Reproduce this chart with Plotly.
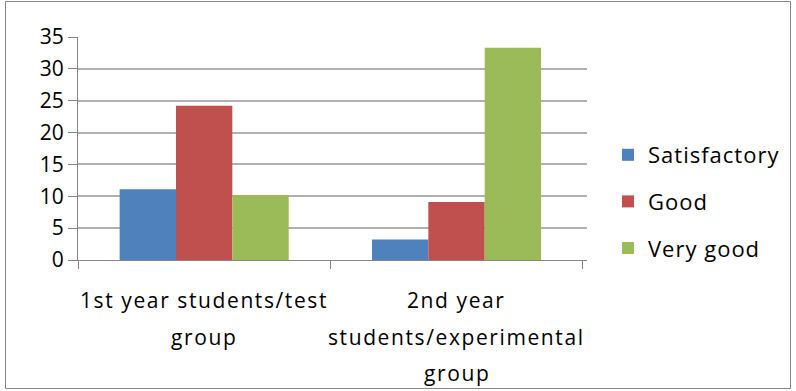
import plotly.graph_objects as go

categories = ["1st year students/test group", "2nd year students/experimental group"]
label_lines = [["1st year students/test", "group"],
               ["2nd year", "students/experimental", "group"]]
series_names = ["Satisfactory", "Good", "Very good"]
satisfactory = [11.1, 3.2]
good = [24.2, 9.1]
very_good = [10.2, 33.3]
y_ticks = [0, 5, 10, 15, 20, 25, 30, 35]

colors = ["#4F81BD", "#C0504D", "#9BBB59"]
FONT = "Open Sans"

W, H = 796, 391
L, R, T, B = 78, 209, 37, 131
pw, ph = W - L - R, H - T - B

def spaced(s, ls=1.5):
    return '<span style="letter-spacing:%spx">%s</span>' % (ls, s)

fig = go.Figure()
for name, vals, c in zip(series_names, [satisfactory, good, very_good], colors):
    fig.add_trace(go.Bar(name=spaced(name, 1.0), x=categories, y=vals, marker_color=c,
                         marker_line_width=0, legendgroup=name))

def px_to_paper_x(px):
    return (px - L) / pw

def px_to_paper_y(py):
    return (H - B - py) / ph

annotations = []
for cat, lines in zip(categories, label_lines):
    for i, line in enumerate(lines):
        annotations.append(dict(x=cat, xref="x", y=0, yref="paper",
                                yanchor="middle", xanchor="center",
                                yshift=-(40 + 36.5 * i), text=spaced(line, 1.6),
                                showarrow=False,
                                font=dict(family=FONT, size=21, color="#000000")))

fig.update_layout(
    width=W, height=H,
    margin=dict(l=L, r=R, t=T, b=B, pad=0, autoexpand=False),
    paper_bgcolor="white", plot_bgcolor="white",
    barmode="group", bargap=0.33, bargroupgap=0,
    font=dict(family=FONT, size=18, color="#000000"),
    xaxis=dict(showticklabels=False, tickson="boundaries", ticks="outside",
               ticklen=8, tickcolor="#868686", showline=True, linecolor="#868686",
               linewidth=1, showgrid=False, zeroline=False),
    yaxis=dict(range=[0, 35], tickvals=y_ticks, ticks="outside", ticklen=9,
               tickcolor="#868686", showline=True, linecolor="#868686", linewidth=1,
               showgrid=True, gridcolor="#b0b0b0", gridwidth=1.5, zeroline=False,
               tickfont=dict(family=FONT, size=21, color="#000000")),
    legend=dict(x=px_to_paper_x(608), xanchor="left", y=px_to_paper_y(134),
                yanchor="top", tracegroupgap=15,
                font=dict(family=FONT, size=22, color="#000000"),
                itemwidth=30, bgcolor="rgba(0,0,0,0)"),
    annotations=annotations,
    shapes=[dict(type="rect", xref="paper", yref="paper",
                 x0=px_to_paper_x(5.5), x1=px_to_paper_x(790.5),
                 y0=px_to_paper_y(388.5), y1=px_to_paper_y(1.5),
                 line=dict(color="#868686", width=1), fillcolor="rgba(0,0,0,0)",
                 layer="below")],
)

fig.write_html("out.html")
